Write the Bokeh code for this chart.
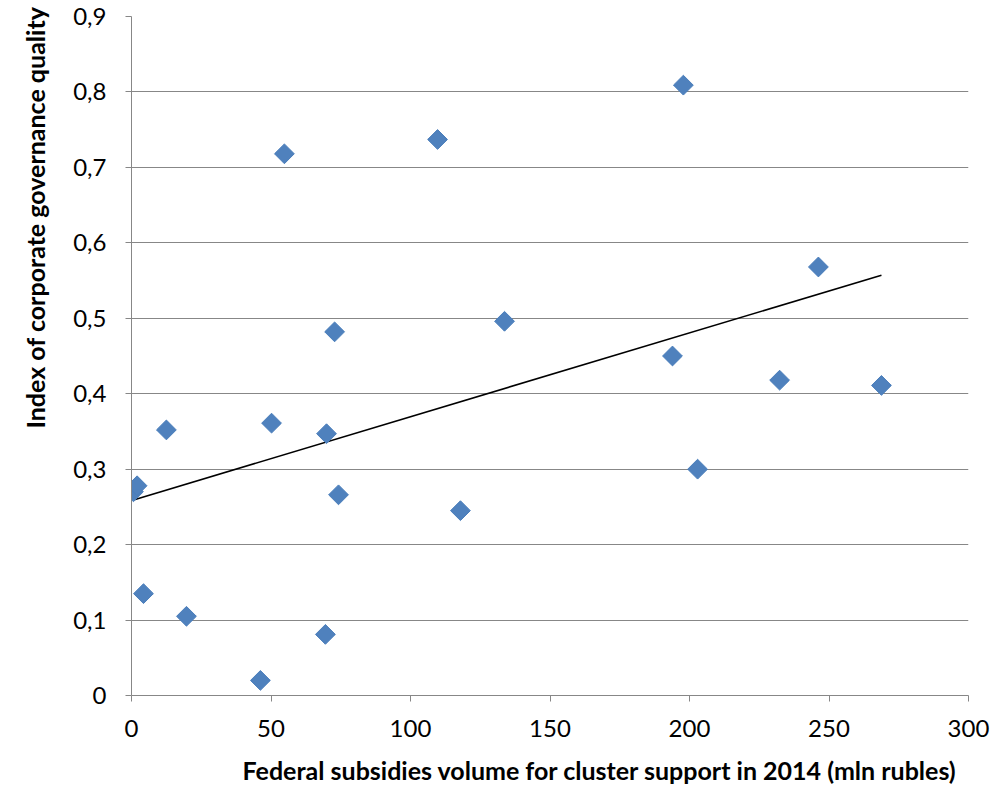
import numpy as np
from bokeh.plotting import figure
from bokeh.models import FixedTicker, ColumnDataSource, Title
from bokeh.embed import file_html
from bokeh.resources import INLINE

# Data
subsidies = [0.7, 2.0, 4.3, 12.5, 19.7, 46.2, 50.2, 54.8, 69.5, 69.9, 72.8, 74.2,
             109.7, 117.9, 133.7, 193.9, 197.8, 202.9, 232.3, 246.2, 268.8]
governance = [0.270, 0.278, 0.135, 0.352, 0.105, 0.020, 0.361, 0.718, 0.081, 0.347,
              0.482, 0.266, 0.737, 0.245, 0.496, 0.450, 0.809, 0.300, 0.418, 0.568, 0.411]

x_ticks = [0, 50, 100, 150, 200, 250, 300]
x_tick_labels = ["0", "50", "100", "150", "200", "250", "300"]
y_ticks = [0, 0.1, 0.2, 0.3, 0.4, 0.5, 0.6, 0.7, 0.8, 0.9]
y_tick_labels = ["0", "0,1", "0,2", "0,3", "0,4", "0,5", "0,6", "0,7", "0,8", "0,9"]

x_title = "Federal subsidies volume for cluster support in 2014  (mln rubles)"
y_title = "Index of corporate governance quality"

FONT = "Lato"
GREY = "#878787"

p = figure(width=992, height=797, output_backend="svg", toolbar_location=None,
           x_range=(0, 300), y_range=(0, 0.9),
           min_border_left=131, min_border_right=24, min_border_top=16, min_border_bottom=102)
p.outline_line_color = None
p.background_fill_color = "white"
p.border_fill_color = "white"

# grid
p.xgrid.grid_line_color = None
p.ygrid.grid_line_color = GREY
p.ygrid.grid_line_width = 1
p.ygrid.ticker = FixedTicker(ticks=y_ticks)

# axes
p.xaxis.ticker = FixedTicker(ticks=x_ticks)
p.yaxis.ticker = FixedTicker(ticks=y_ticks)
p.xaxis.major_label_overrides = {t: l for t, l in zip(x_ticks, x_tick_labels)}
p.yaxis.major_label_overrides = {t: l for t, l in zip(y_ticks, y_tick_labels)}
for ax in (p.xaxis, p.yaxis):
    ax.axis_line_color = GREY
    ax.major_tick_line_color = GREY
    ax.major_tick_out = 6
    ax.major_tick_in = 0
    ax.minor_tick_line_color = None
    ax.major_label_text_font = FONT
    ax.major_label_text_font_size = "24px"
    ax.major_label_text_color = "black"
p.xaxis.major_label_standoff = 18
p.yaxis.major_label_standoff = 19

# axis titles, placed off-centre as in the reference
p.add_layout(Title(text=x_title, align="left", offset=111, standoff=26,
                   vertical_align="bottom",
                   text_font=FONT, text_font_size="25px", text_font_style="bold",
                   text_color="black"), "below")
p.add_layout(Title(text=y_title, align="left", offset=267, standoff=38,
                   vertical_align="top",
                   text_font=FONT, text_font_size="25px", text_font_style="bold",
                   text_color="black"), "left")

# trend line (least squares fit over data range)
slope, intercept = np.polyfit(subsidies, governance, 1)
xs = [min(subsidies), max(subsidies)]
ys = [slope * x + intercept for x in xs]
p.line(xs, ys, line_color="black", line_width=1.6)

src = ColumnDataSource(data=dict(x=subsidies, y=governance))
p.scatter("x", "y", source=src, marker="square", size=14, angle=np.pi / 4,
          fill_color="#4F81BD", line_color="#4A7EBB", line_width=1)

open("out.html", "w").write(file_html(p, INLINE))
